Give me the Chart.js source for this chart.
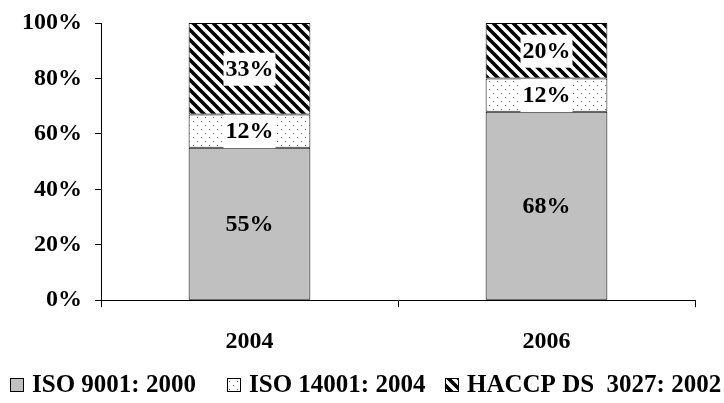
<!DOCTYPE html>
<html>
<head>
<meta charset="utf-8">
<script src="https://cdn.jsdelivr.net/npm/chart.js@4"></script>
<style>
  html, body { margin: 0; padding: 0; background: #fff; }
  #wrap { width: 724px; height: 403px; }
</style>
</head>
<body>
<div id="wrap"><canvas id="myChart"></canvas></div>
<script>
const years = ["2004", "2006"];
const iso9001 = [55, 68];
const iso14001 = [12, 12];
const haccp = [33, 20];
const seriesNames = ["ISO 9001: 2000", "ISO 14001: 2004", "HACCP DS  3027: 2002"];
const yTicks = [0, 20, 40, 60, 80, 100];

const fontFamily = "'Liberation Serif', 'Times New Roman', serif";

// diagonal stripes going top-left to bottom-right
function makeStripes() {
    const c = document.createElement('canvas');
    c.width = 10; c.height = 10;
    const g = c.getContext('2d');
    g.fillStyle = '#fff';
    g.fillRect(0, 0, 10, 10);
    g.strokeStyle = '#000';
    g.lineWidth = 3.6;
    g.beginPath();
    g.moveTo(-5, -5); g.lineTo(15, 15);
    g.moveTo(-15, -5); g.lineTo(5, 15);
    g.moveTo(5, -5); g.lineTo(25, 15);
    g.stroke();
    return g.createPattern(c, 'repeat');
}

// sparse dots on white
function makeDots() {
    const c = document.createElement('canvas');
    c.width = 8; c.height = 8;
    const g = c.getContext('2d');
    g.fillStyle = '#fff';
    g.fillRect(0, 0, 8, 8);
    g.fillStyle = '#666';
    g.fillRect(1, 1, 1, 1);
    g.fillRect(5, 5, 1, 1);
    return g.createPattern(c, 'repeat');
}

// writes the value in the middle of each segment, white box behind it
const valueLabels = {
    id: 'valueLabels',
    afterDatasetsDraw(chart) {
        const ctx = chart.ctx;
        ctx.save();
        ctx.font = "bold 24px " + fontFamily;
        ctx.textAlign = 'center';
        ctx.textBaseline = 'middle';
        chart.data.datasets.forEach((ds, i) => {
            chart.getDatasetMeta(i).data.forEach((bar, j) => {
                const txt = ds.data[j] + '%';
                const y = (bar.y + bar.base) / 2;
                const w = ctx.measureText(txt).width;
                if (i > 0) {
                    ctx.fillStyle = '#fff';
                    ctx.fillRect(bar.x - w / 2 - 2, y - 16, w + 4, 33);
                }
                ctx.fillStyle = '#000';
                ctx.fillText(txt, bar.x, y + 1);
            });
        });
        ctx.restore();
    }
};

// legend drawn by hand along the bottom
const legendX = [10, 227, 445];
const bottomLegend = {
    id: 'bottomLegend',
    afterDraw(chart) {
        const ctx = chart.ctx;
        ctx.save();
        ctx.font = "bold 25px " + fontFamily;
        ctx.textBaseline = 'middle';
        const y = 385;
        chart.data.datasets.forEach((ds, i) => {
            const x = legendX[i];
            ctx.fillStyle = ds.backgroundColor;
            ctx.fillRect(x, y - 7, 13, 13);
            ctx.strokeStyle = '#000';
            ctx.lineWidth = 1;
            ctx.strokeRect(x + 0.5, y - 6.5, 13, 13);
            ctx.fillStyle = '#000';
            ctx.fillText(ds.label, x + 22, y + 1);
        });
        ctx.restore();
    }
};

function start() {
    const ctx = document.getElementById('myChart').getContext('2d');
    const stripes = makeStripes();
    const dots = makeDots();

    const tickFont = { family: fontFamily, size: 24, weight: 'bold' };

    new Chart(ctx, {
        type: 'bar',
        data: {
            labels: years,
            datasets: [
                { label: seriesNames[0], data: iso9001, backgroundColor: '#c0c0c0' },
                { label: seriesNames[1], data: iso14001, backgroundColor: dots },
                { label: seriesNames[2], data: haccp, backgroundColor: stripes }
            ].map(d => ({
                ...d,
                borderColor: '#000',
                borderWidth: 1,
                borderSkipped: false,
                categoryPercentage: 1,
                barPercentage: 0.41
            }))
        },
        options: {
            responsive: true,
            maintainAspectRatio: false,
            animation: false,
            devicePixelRatio: 1,
            layout: { padding: { top: 23, right: 29, left: 9, bottom: 27 } },
            plugins: {
                tooltip: { enabled: false },
                legend: { display: false }
            },
            scales: {
                x: {
                    stacked: true,
                    grid: {
                        offset: true,
                        drawOnChartArea: false,
                        drawTicks: true,
                        tickLength: 7,
                        color: '#000'
                    },
                    border: { color: '#000', width: 1 },
                    ticks: { color: '#000', font: tickFont, padding: 20 }
                },
                y: {
                    stacked: true,
                    min: 0,
                    max: 100,
                    afterBuildTicks: axis => {
                        axis.ticks = yTicks.map(v => ({ value: v }));
                    },
                    // let the top label stick out like in the original
                    afterFit: axis => {
                        axis.paddingTop = 0;
                    },
                    grid: {
                        drawOnChartArea: false,
                        drawTicks: true,
                        tickLength: 6,
                        color: '#000'
                    },
                    border: { color: '#000', width: 1 },
                    ticks: {
                        color: '#000',
                        font: tickFont,
                        padding: 13,
                        callback: v => v + '%'
                    }
                }
            }
        },
        plugins: [valueLabels, bottomLegend]
    });
}

window.addEventListener("load", start, false);
</script>
</body>
</html>
